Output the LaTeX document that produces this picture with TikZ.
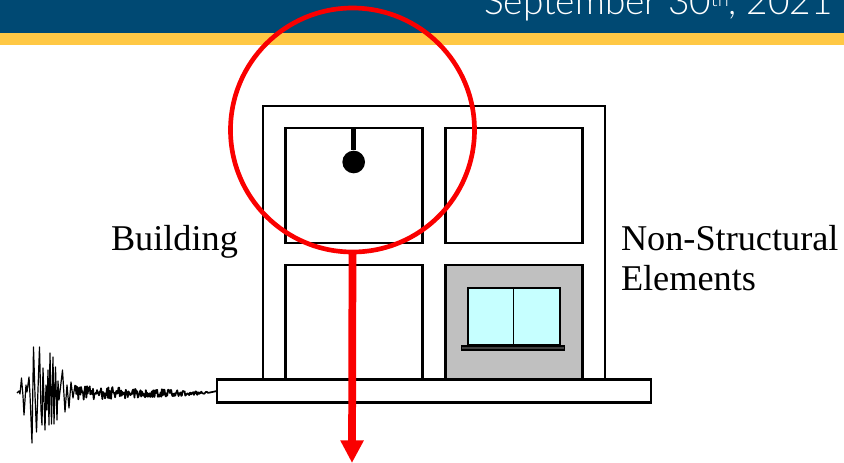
\documentclass[tikz,border=0pt]{standalone}
\usepackage{fontspec}
\setmainfont{Liberation Serif}
\newfontfamily\datefont{Lato Light}
\usetikzlibrary{arrows.meta,positioning,calc}
\definecolor{bannerblue}{RGB}{0,73,115}
\definecolor{bannergold}{RGB}{255,200,69}
\definecolor{glasscyan}{RGB}{198,255,255}
\definecolor{panelgray}{RGB}{192,192,192}
\definecolor{sillgray}{RGB}{64,64,64}
\definecolor{lensred}{RGB}{250,0,0}

\begin{document}
\begin{tikzpicture}[
      x=0.75pt, y=-0.75pt,
      every node/.style={font=\fontsize{27.2}{30}\selectfont},
      box/.style={rectangle, draw=black, line width=2.1pt, inner sep=0pt, outer sep=0pt},
      room/.style={box, minimum width=102.75pt, minimum height=86.25pt},
      lbl/.style={anchor=base west, inner sep=0pt, outer sep=0pt, align=left},
      wave/.style={black, line width=0.9pt, line join=round}
    ]
    \useasboundingbox (0,0) rectangle (844,462);
    % banner
    \fill[bannerblue] (0,0) rectangle (844,32.5);
    \fill[bannergold] (0,32.5) rectangle (844,45);
    \node[lbl, anchor=base east, text=white, font=\datefont\fontsize{27.8}{30}\selectfont] (date) at (833,14)
      {September 30\raisebox{6pt}{\fontsize{15}{15}\selectfont th}, 2021};
    % building frame and slab
    \node[box, minimum width=256.5pt, minimum height=205.5pt] (frame) at (434,243) {};
    \node[room] (r1) at (353.7,185.5) {};
    \node[room] (r2) at (513.7,185.5) {};
    \node[room] (r3) at (353.7,322.5) {};
    \node[room, fill=panelgray] (r4) at (513.7,322.5) {};
    \node[box, fill=white, minimum width=325.5pt, minimum height=17.25pt] (base) at (434,391) {};
    % window in the lower right room
    \node[box, fill=glasscyan, line width=1.3pt, minimum width=69pt, minimum height=43pt] (win) at (513.7,316.5) {};
    \draw[line width=1.1pt] (win.north) -- (win.south);
    \node[box, fill=sillgray, line width=1pt, minimum width=77pt, minimum height=3.2pt] (sill) at (513,348) {};
    % pendulum
    \node[circle, fill=black, minimum size=17pt, inner sep=0pt] (ball) at (353.7,162) {};
    \draw[line width=3.4pt] (r1.north -| ball) -- (ball);
    % ground motion
    \draw[wave] plot coordinates {(17,393) (19,391) (20,394) (21.5,378) (23,396) (24,415) (26,385)
      (27,392) (29,377) (30,395) (32,443) (33.5,347) (35,395) (36.5,432) (39.5,347) (41,410)
      (42,425) (43,368) (45,430) (46,385) (47,410) (48,370) (49,425) (50,353) (51.5,424)
      (53,357) (54,424) (55.5,367) (57,420) (58,381) (59,400) (62.5,370) (65,412) (67,385)
      (69,408) (71,382) (73,398) (75,385)};
    \pgfmathsetseed{17}
    \draw[wave, line width=1.3pt] plot[domain=75:208, samples=200] (\x,{393+rand*(6*(215-\x)/140+1.5)}) -- (base.west);
    % labels
    \node[lbl] (bld) at (111,250) {Building};
    \node[lbl] (nse) at (621,290) {Non-Structural\\Elements};
    % lens and arrow
    \node[circle, draw=lensred, line width=3.5pt, minimum size=183pt, inner sep=0pt, outer sep=0pt] (lens) at (352.5,130) {};
    \coordinate (tip) at (352,463);
    \draw[lensred, line width=5.8pt, -{Triangle[length=17pt,width=16.5pt]}] (lens.south) -- (tip);
  \end{tikzpicture}
\end{document}
